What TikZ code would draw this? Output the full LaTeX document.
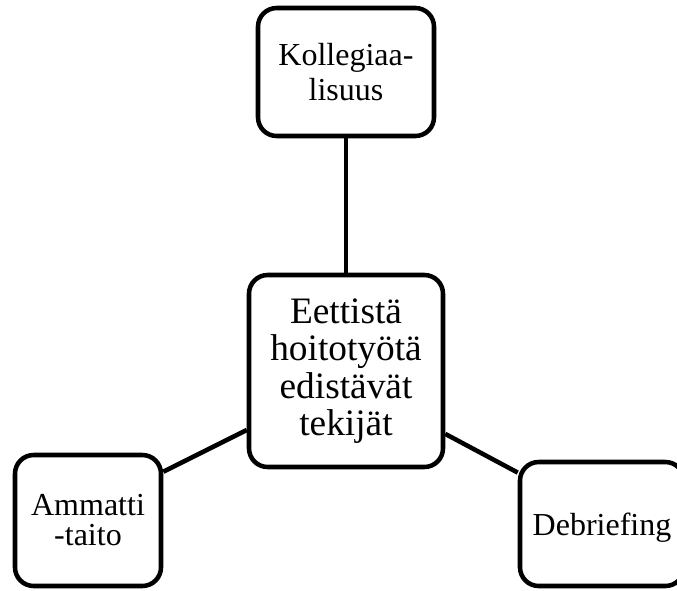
\documentclass[tikz,border=0pt]{standalone}
\usepackage{fontspec}
\setmainfont{Liberation Serif}
\usetikzlibrary{calc}
\tikzset{
  factor/.style={draw, line width=3.4pt, rounded corners=14pt, align=center,
    inner sep=0pt, font=\fontsize{24}{26}\selectfont},
  link/.style={line width=3.4pt}
}
\begin{document}
\begin{tikzpicture}[x=0.75pt, y=-0.75pt]
    \useasboundingbox (0,0) rectangle (677,590);

    % Central box
    \node[factor, minimum width=194*0.75pt, minimum height=192*0.75pt,
      font=\fontsize{28}{28}\selectfont] (ctr) at (346,371)
      {Eettistä\\hoitotyötä\\edistävät\\tekijät};

    % Surrounding factors
    \node[factor, minimum width=176*0.75pt, minimum height=128*0.75pt] (koll) at (346,72)
      {Kollegiaa-\\lisuus};
    \node[factor, minimum width=146*0.75pt, minimum height=131*0.75pt,
      font=\fontsize{24}{22.5}\selectfont] (amm) at (88,520.5)
      {Ammatti\\-taito};
    \node[factor, minimum width=164*0.75pt, minimum height=124*0.75pt,
      text depth=0pt] (debr) at (602,524)
      {Debriefing};

    % Links
    \draw[link] (koll.south) -- (ctr.north);
    \draw[link] ($(ctr.north west)!0.8!(ctr.south west)$) -- ($(amm.north east)!0.14!(amm.south east)$);
    \draw[link] ($(ctr.north east)!0.82!(ctr.south east)$) -- ($(debr.north west)!0.1!(debr.south west)$);
\end{tikzpicture}
\end{document}
